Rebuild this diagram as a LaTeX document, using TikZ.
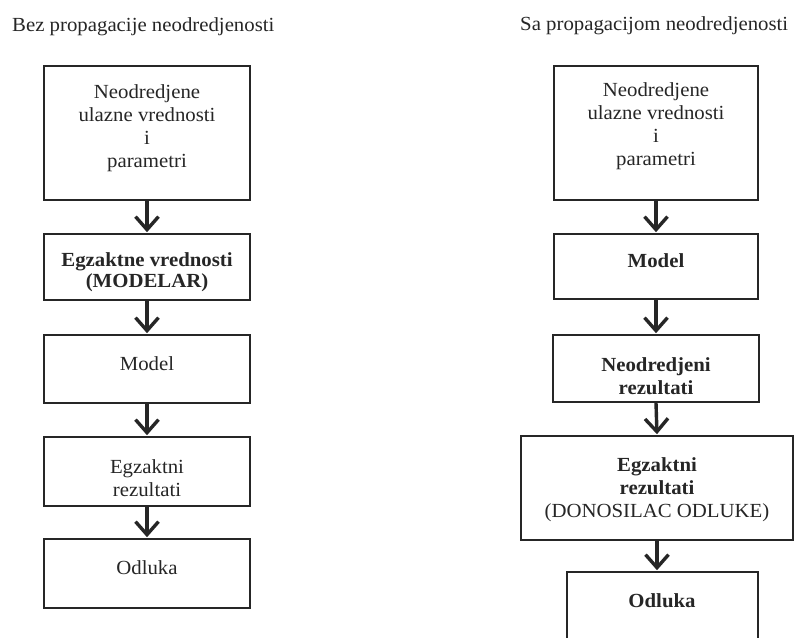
\documentclass[tikz,border=0pt]{standalone}
\usepackage{fontspec}
\setmainfont[FakeStretch=1.04]{Liberation Serif}
\usetikzlibrary{arrows.meta}
\tikzset{
  box/.style={draw=black!85, line width=1.6pt, rectangle, inner sep=0pt},
  txt/.style={align=center, inner sep=0pt, font=\fontsize{20}{23}\selectfont, text=black!85},
  ttl/.style={anchor=base west, inner sep=0pt, font=\fontsize{20}{23}\selectfont, text=black!85},
  flow/.style={draw=black!85, line width=3.4pt, -{Straight Barb[length=13pt,width=23pt,line width=3.4pt]}, shorten >=1pt}
}
\begin{document}
\begin{tikzpicture}[x=1pt,y=-1pt]
\clip (0,0) rectangle (794,637);
\fill[white] (0,0) rectangle (794,637);
% titles
\node[ttl] (tl) at (12,31) {Bez propagacije neodredjenosti};
\node[ttl] (tr) at (520,30) {Sa propagacijom neodredjenosti};
% left column
\node[box, minimum width=206pt, minimum height=134pt] (L1) at (147,133) {};
\node[box, minimum width=206pt, minimum height=66pt] (L2) at (147,267) {};
\node[box, minimum width=206pt, minimum height=68pt] (L3) at (147,369) {};
\node[box, minimum width=206pt, minimum height=69pt] (L4) at (147,471.5) {};
\node[box, minimum width=206pt, minimum height=69pt] (L5) at (147,573.5) {};
\node[txt] (L1t) at (147,128) {Neodredjene\\ulazne vrednosti\\i\\parametri};
\node[txt, font=\fontsize{20}{21}\selectfont\bfseries] (L2t) at (147,272) {Egzaktne vrednosti\\(MODELAR)};
\node[txt] (L3t) at (147,364) {Model};
\node[txt] (L4t) at (147,478) {Egzaktni\\rezultati};
\node[txt] (L5t) at (147,568) {Odluka};
\draw[flow] (L1.south) -- (L2.north);
\draw[flow] (L2.south) -- (L3.north);
\draw[flow] (L3.south) -- (L4.north);
\draw[flow] (L4.south) -- (L5.north);
% right column
\node[box, minimum width=204pt, minimum height=134pt] (R1) at (656,133) {};
\node[box, minimum width=204pt, minimum height=65pt] (R2) at (656,266.5) {};
\node[box, minimum width=206pt, minimum height=67pt] (R3) at (656,368.5) {};
\node[box, minimum width=272pt, minimum height=104pt] (R4) at (657,488) {};
\node[box, minimum width=191pt, minimum height=140pt] (R5) at (662.5,642) {};
\node[txt] (R1t) at (656,126) {Neodredjene\\ulazne vrednosti\\i\\parametri};
\node[txt, font=\fontsize{20}{23}\selectfont\bfseries] (R2t) at (656,261) {Model};
\node[txt, font=\fontsize{20}{23}\selectfont\bfseries] (R3t) at (656,376) {Neodredjeni\\rezultati};
\node[txt] (R4t) at (657,490) {\textbf{Egzaktni}\\\textbf{rezultati}\\(DONOSILAC ODLUKE)};
\node[txt, font=\fontsize{20}{23}\selectfont\bfseries] (R5t) at (662,601) {Odluka};
\draw[flow] (R1.south) -- (R2.north);
\draw[flow] (R2.south) -- (R3.north);
\draw[flow] (R3.south) -- (R4.north);
\draw[flow] (R4.south) -- (R4.south |- R5.north);
\end{tikzpicture}
\end{document}
